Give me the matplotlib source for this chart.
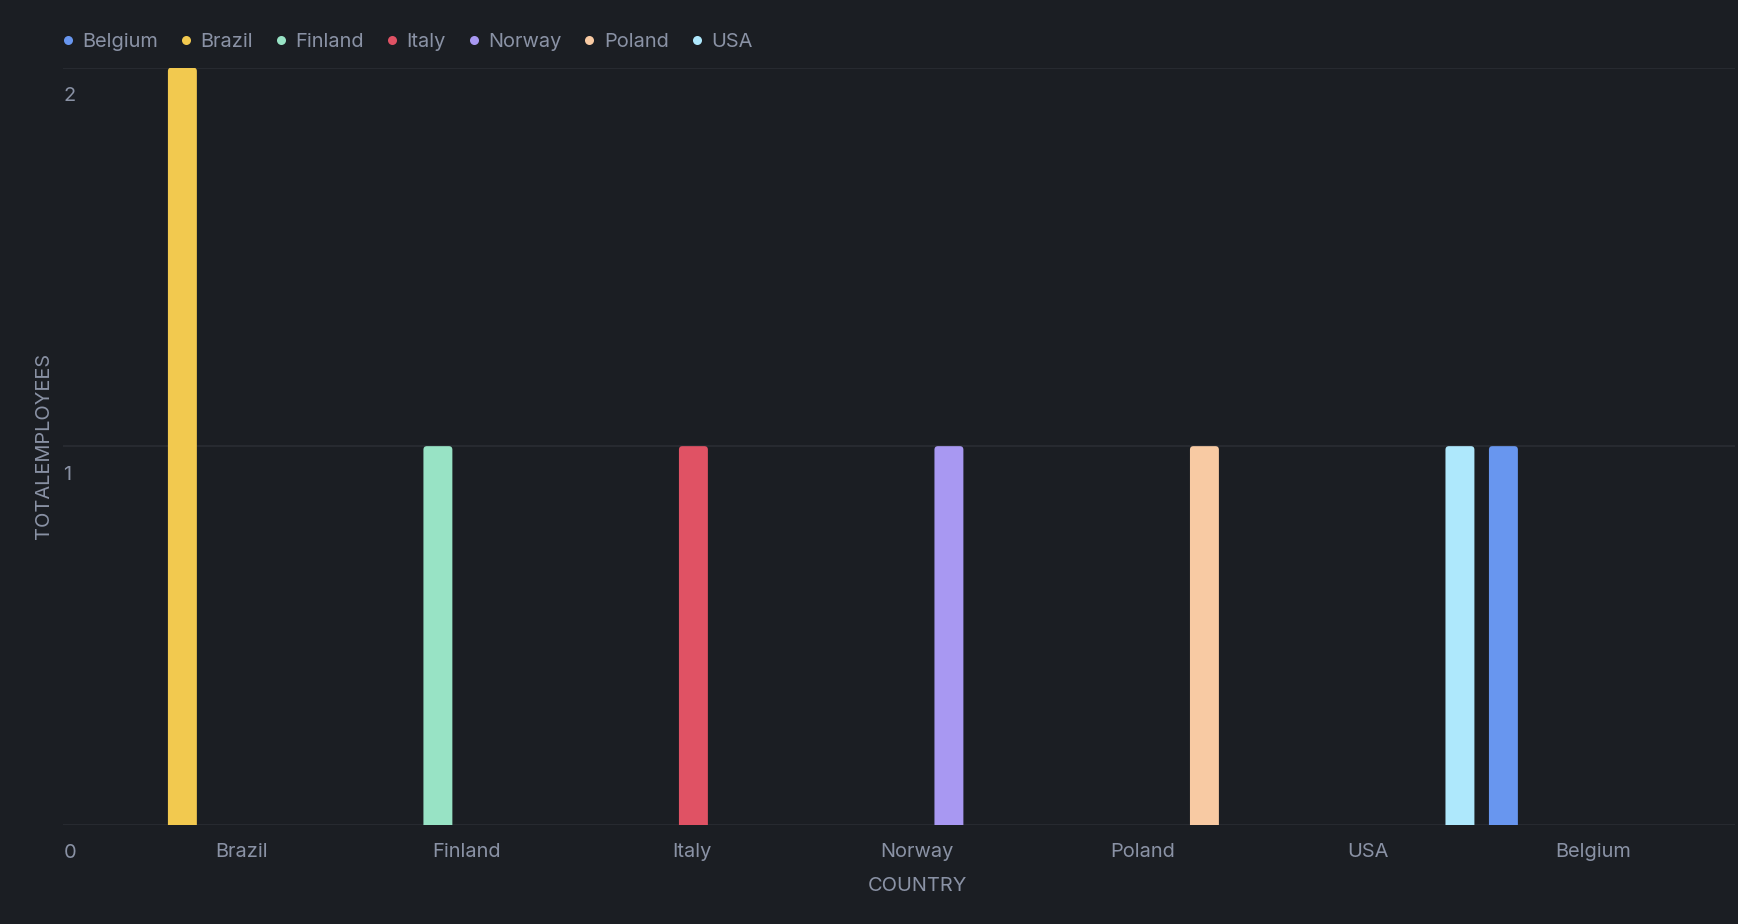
import numpy as np
import matplotlib
matplotlib.use("Agg")
import matplotlib.pyplot as plt
from matplotlib.lines import Line2D
from matplotlib.patches import FancyBboxPatch
import matplotlib.transforms as mtransforms

# ---- data ----
categories = ["Brazil", "Finland", "Italy", "Norway", "Poland", "USA", "Belgium"]
series_names = ["Belgium", "Brazil", "Finland", "Italy", "Norway", "Poland", "USA"]
belgium = [0, 0, 0, 0, 0, 0, 1]
brazil = [2, 0, 0, 0, 0, 0, 0]
finland = [0, 1, 0, 0, 0, 0, 0]
italy = [0, 0, 1, 0, 0, 0, 0]
norway = [0, 0, 0, 1, 0, 0, 0]
poland = [0, 0, 0, 0, 1, 0, 0]
usa = [0, 0, 0, 0, 0, 1, 0]
yticks = [0, 1, 2]
x_title = "COUNTRY"
y_title = "TOTALEMPLOYEES"

series_values = [belgium, brazil, finland, italy, norway, poland, usa]
colors = ["#6896ef", "#f2c94f", "#98e3c5", "#e05264", "#a898f2", "#f8caa3", "#aee8fc"]

BG = "#1b1e23"
GRID = "#2b2e35"
TXT = "#8a92a5"
FONT = ["Inter", "DejaVu Sans"]
FS = 14.4

plt.rcParams["font.family"] = FONT

fig = plt.figure(figsize=(17.38, 9.24), dpi=100, facecolor=BG)
ax = fig.add_axes([0.036, 0.1075, 0.9623, 0.8193])
ax.set_facecolor(BG)
ax.set_xlim(-0.795, 6.631)
ax.set_ylim(0, 2)

n = len(series_names)
slot = 0.1345
bw = 0.1285
x = np.arange(len(categories))

# pixel scale of data units (for rounded bar tops)
fig.canvas.draw()
p0 = ax.transData.transform((0, 0))
p1 = ax.transData.transform((1, 1))
px_x = p1[0] - p0[0]
px_y = p1[1] - p0[1]
r_px = 3.5
r_x = r_px / px_x
aspect = px_x / px_y

for j, (name, vals, c) in enumerate(zip(series_names, series_values, colors)):
    offs = (j - (n - 1) / 2) * slot + 0.006
    bars = ax.bar(x + offs, vals, width=bw, color=c, label=name, zorder=3,
                  linewidth=0)
    for rect in bars:
        h = rect.get_height()
        if h <= 0:
            rect.set_visible(False)
            continue
        x0, w = rect.get_x(), rect.get_width()
        ext = r_x * aspect * 2
        fb = FancyBboxPatch((x0, -ext), w, h + ext,
                            boxstyle=f"round,pad=0,rounding_size={r_x}",
                            mutation_aspect=aspect, facecolor=c, linewidth=0,
                            zorder=3)
        ax.add_patch(fb)
        rect.set_visible(False)

# grid lines
ax.set_yticks(yticks)
ax.yaxis.grid(True, color=GRID, linewidth=1.1, zorder=0)
ax.set_axisbelow(True)
ax.tick_params(axis="y", length=0, labelleft=False)
for s in ax.spines.values():
    s.set_visible(False)

# y tick labels below grid lines
ytrans = mtransforms.blended_transform_factory(ax.transAxes, ax.transData)
for t in yticks:
    ax.annotate(str(t), xy=(0, t), xycoords=ytrans, xytext=(0.5, -20.5),
                textcoords="offset points", ha="left", va="center",
                color=TXT, fontsize=FS)

# x ticks
ax.set_xticks(x)
ax.set_xticklabels(categories)
ax.tick_params(axis="x", length=0, pad=13.5, labelsize=FS, labelcolor=TXT)

# axis titles
xtrans = mtransforms.blended_transform_factory(ax.transData, ax.transAxes)
ax.annotate(x_title, xy=(3, 0), xycoords=xtrans, xytext=(0, -44.5),
            textcoords="offset points", ha="center", va="center",
            color=TXT, fontsize=FS)
ax.set_ylabel(y_title, color=TXT, fontsize=FS, labelpad=7)

# legend
handles = [Line2D([], [], marker="o", linestyle="", markersize=6.5,
                  markerfacecolor=c, markeredgewidth=0) for c in colors]
fig.legend(handles, series_names, loc="center left",
           bbox_to_anchor=(0.036, 0.9545), ncol=n, frameon=False,
           fontsize=FS, labelcolor=TXT, handlelength=0.5, handletextpad=0.47,
           columnspacing=1.15, borderpad=0, borderaxespad=0)

fig.savefig("out.png", dpi=100, facecolor=BG)
